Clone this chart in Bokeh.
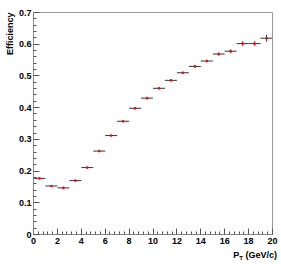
from bokeh.plotting import figure
from bokeh.models import Range1d, FixedTicker, Title, Div
from bokeh.layouts import column
from bokeh.embed import file_html
from bokeh.resources import INLINE

# data
pt_centers = [0.5, 1.5, 2.5, 3.5, 4.5, 5.5, 6.5, 7.5, 8.5, 9.5,
              10.5, 11.5, 12.5, 13.5, 14.5, 15.5, 16.5, 17.5, 18.5, 19.5]
bin_half_width = [0.5] * 20
efficiency = [0.177, 0.153, 0.147, 0.170, 0.211, 0.263, 0.312, 0.357, 0.398, 0.430,
              0.461, 0.486, 0.510, 0.530, 0.547, 0.569, 0.578, 0.602, 0.602, 0.619]
eff_error = [0.002, 0.002, 0.002, 0.002, 0.002, 0.002, 0.002, 0.003, 0.003, 0.003,
             0.003, 0.003, 0.003, 0.004, 0.004, 0.005, 0.006, 0.007, 0.007, 0.011]
x_ticks = [0, 2, 4, 6, 8, 10, 12, 14, 16, 18, 20]
y_ticks = [0, 0.1, 0.2, 0.3, 0.4, 0.5, 0.6, 0.7]
y_tick_labels = ["0", "0.1", "0.2", "0.3", "0.4", "0.5", "0.6", "0.7"]

FONT = "Liberation Sans"
W, H = 281, 246

p = figure(width=W, height=H, output_backend="svg", toolbar_location=None,
           x_range=Range1d(0, 20), y_range=Range1d(0, 0.7),
           min_border_left=33, min_border_right=9, min_border_top=12, min_border_bottom=11)
p.background_fill_color = "white"
p.border_fill_color = "white"
p.grid.visible = False
p.outline_line_color = "#999999"
p.outline_line_width = 1

for ax in (p.xaxis[0], p.yaxis[0]):
    ax.axis_line_color = "#888888"
    ax.major_tick_line_color = "#555555"
    ax.minor_tick_line_color = "#555555"
    ax.major_tick_in = 6
    ax.major_tick_out = 0
    ax.minor_tick_in = 3
    ax.minor_tick_out = 0
    ax.major_label_text_font = FONT
    ax.major_label_text_font_style = "bold"
    ax.major_label_text_font_size = "9px"
    ax.major_label_text_color = "black"

p.xaxis[0].ticker = FixedTicker(ticks=x_ticks,
                                minor_ticks=[i * 0.4 for i in range(51)])
p.xaxis[0].major_label_overrides = {t: str(t) for t in x_ticks}
p.xaxis[0].major_label_standoff = 3
p.yaxis[0].ticker = FixedTicker(ticks=y_ticks,
                                minor_ticks=[i * 0.02 for i in range(36)])
p.yaxis[0].major_label_overrides = {t: s for t, s in zip(y_ticks, y_tick_labels)}
p.yaxis[0].major_label_standoff = 2

p.add_layout(Title(text="Efficiency", align="right", standoff=2, offset=0,
                   text_font=FONT, text_font_style="bold", text_font_size="9px",
                   text_color="black"), "left")

x0 = [c - h for c, h in zip(pt_centers, bin_half_width)]
x1 = [c + h for c, h in zip(pt_centers, bin_half_width)]
y0 = [e - d for e, d in zip(efficiency, eff_error)]
y1 = [e + d for e, d in zip(efficiency, eff_error)]

p.segment(x0=x0, y0=efficiency, x1=x1, y1=efficiency, line_color="#333333", line_width=1)
p.segment(x0=pt_centers, y0=y0, x1=pt_centers, y1=y1, line_color="#333333", line_width=1)
p.scatter(pt_centers, efficiency, marker="circle", size=2.6, fill_color="#ff0000",
          line_color="#ff0000", line_width=0)

xtitle = Div(
    text=('<div style="display:block;width:281px;box-sizing:border-box;'
          'text-align:right;font:bold 9px \'Liberation Sans\';'
          'color:black;padding-right:4px;padding-top:0px;line-height:10px;">'
          'P<sub style="font-size:6px;vertical-align:-2px;">T</sub> (GeV/c)</div>'),
    width=W, height=18, margin=0, styles={"text-align": "right"})

layout = column(p, xtitle, spacing=0)

open("out.html", "w").write(file_html(layout, INLINE))
